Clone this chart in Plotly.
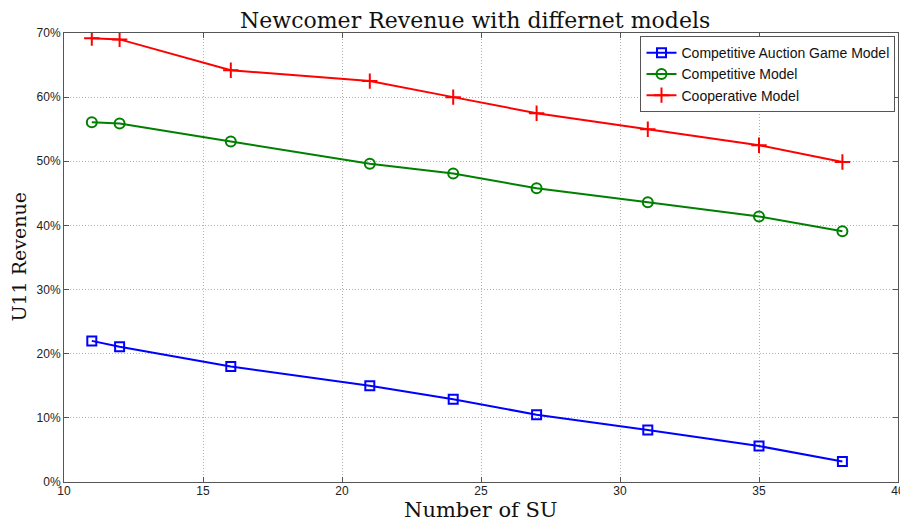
import plotly.graph_objects as go

num_su = [11, 12, 16, 21, 24, 27, 31, 35, 38]
auction = [22.0, 21.1, 18.0, 15.0, 12.9, 10.5, 8.1, 5.6, 3.2]
competitive = [56.1, 55.9, 53.1, 49.6, 48.1, 45.8, 43.6, 41.4, 39.1]
cooperative = [69.2, 69.0, 64.2, 62.5, 60.0, 57.5, 55.0, 52.5, 49.9]

y_ticks = [0, 10, 20, 30, 40, 50, 60, 70]
x_ticks = [10, 15, 20, 25, 30, 35, 40]

fig = go.Figure()
fig.add_trace(go.Scatter(x=num_su, y=auction, mode="lines+markers",
                         name="Competitive Auction Game Model",
                         line=dict(color="#0000FF", width=2),
                         marker=dict(symbol="square-open", size=9, color="#0000FF",
                                     line=dict(width=2, color="#0000FF"))))
fig.add_trace(go.Scatter(x=num_su, y=competitive, mode="lines+markers",
                         name="Competitive Model",
                         line=dict(color="#008000", width=2),
                         marker=dict(symbol="circle-open", size=10, color="#008000",
                                     line=dict(width=2, color="#008000"))))
fig.add_trace(go.Scatter(x=num_su, y=cooperative, mode="lines+markers",
                         name="Cooperative Model",
                         line=dict(color="#FF0000", width=2),
                         marker=dict(symbol="cross-thin", size=11, color="#FF0000",
                                     line=dict(width=2, color="#FF0000"))))

serif = "DejaVu Serif, Liberation Serif, serif"
sans = "Liberation Sans, Arial, sans-serif"

# page body has an 8px margin, so the figure is sized/offset to compensate
fig.update_layout(
    width=900, height=513,
    margin=dict(l=56, r=10, t=25, b=39),
    paper_bgcolor="white", plot_bgcolor="white",
    title=dict(text="Newcomer Revenue with differnet models",
               font=dict(family=serif, size=22, color="#111"),
               x=0.493, xanchor="center", xref="paper", y=0.976, yanchor="middle"),
    font=dict(family=sans, size=12, color="#222"),
    legend=dict(x=0.997, y=0.993, xanchor="right", yanchor="top",
                bgcolor="white", bordercolor="#555", borderwidth=1,
                font=dict(family=sans, size=14, color="#111"),
                tracegroupgap=0, itemwidth=30),
    showlegend=True,
    annotations=[
        dict(text="Number of SU", xref="paper", yref="paper", x=0.5, y=0,
             xanchor="center", yanchor="top", yshift=-14, showarrow=False,
             font=dict(family=serif, size=21, color="#111")),
        dict(text="U11 Revenue", xref="paper", yref="paper", x=0, y=0.5,
             xanchor="center", yanchor="middle", xshift=-46, textangle=-90,
             showarrow=False, font=dict(family=serif, size=19, color="#111")),
    ],
)
fig.update_xaxes(range=[10, 40], tickvals=x_ticks, ticktext=[str(v) for v in x_ticks],
                 showgrid=True, gridcolor="#b0b0b0", griddash="1px,2px", gridwidth=1,
                 showline=True, linecolor="#555", linewidth=1, mirror="ticks",
                 ticks="inside", ticklen=5, tickcolor="#555", zeroline=False,
                 ticklabelstandoff=-2, automargin=False)
fig.update_yaxes(range=[0, 70], tickvals=y_ticks, ticktext=[f"{v}%" for v in y_ticks],
                 showgrid=True, gridcolor="#b0b0b0", griddash="1px,2px", gridwidth=1,
                 showline=True, linecolor="#555", linewidth=1, mirror="ticks",
                 ticks="inside", ticklen=5, tickcolor="#555", zeroline=False,
                 automargin=False)

fig.write_html("out.html")
